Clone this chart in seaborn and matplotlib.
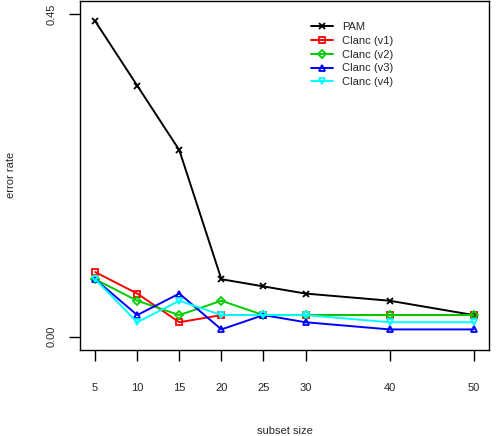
import matplotlib
matplotlib.use("Agg")
import matplotlib.pyplot as plt
import seaborn as sns
import pandas as pd

# Data
subset_size = [5, 10, 15, 20, 25, 30, 40, 50]
pam = [0.44, 0.35, 0.26, 0.08, 0.07, 0.06, 0.05, 0.03]
clanc_v1 = [0.09, 0.06, 0.02, 0.03, 0.03, 0.03, 0.03, 0.03]
clanc_v2 = [0.08, 0.05, 0.03, 0.05, 0.03, 0.03, 0.03, 0.03]
clanc_v3 = [0.08, 0.03, 0.06, 0.01, 0.03, 0.02, 0.01, 0.01]
clanc_v4 = [0.08, 0.02, 0.05, 0.03, 0.03, 0.03, 0.02, 0.02]

series_names = ["PAM", "Clanc (v1)", "Clanc (v2)", "Clanc (v3)", "Clanc (v4)"]
series_values = [pam, clanc_v1, clanc_v2, clanc_v3, clanc_v4]
colors = ["black", "#FF0000", "#00CD00", "#0000FF", "#00FFFF"]
markers = ["x", "s", "D", "^", "v"]

sns.set_style("white")
plt.rcParams["font.family"] = ["Liberation Sans", "DejaVu Sans"]

fig = plt.figure(figsize=(4.96, 4.36), dpi=100)
ax = fig.add_axes([80 / 496, 1 - 349.5 / 436, 409 / 496, 348.5 / 436])

for name, vals, col, mk in zip(series_names, series_values, colors, markers):
    df = pd.DataFrame({"subset size": subset_size, "error rate": vals})
    sns.lineplot(data=df, x="subset size", y="error rate", ax=ax, color=col,
                 marker=mk, markersize=5 if mk != "D" else 4,
                 markerfacecolor="none", markeredgecolor=col, markeredgewidth=1.3,
                 linewidth=1.4, label=name)

ax.set_xlim(3.2, 51.8)
ax.set_ylim(-0.018, 0.468)
ax.set_xticks(subset_size)
ax.set_xticklabels([str(s) for s in subset_size], fontsize=8)
ax.set_yticks([0.0, 0.45])
ax.set_yticklabels(["0.00", "0.45"], fontsize=8, rotation=90, va="center")
ax.tick_params(axis="both", direction="out", length=8, width=1, color="black",
               bottom=True, left=True)
ax.tick_params(axis="x", pad=16)
ax.tick_params(axis="y", pad=9)

ax.set_xlabel("subset size", fontsize=8, labelpad=24)
ax.set_ylabel("error rate", fontsize=8, labelpad=22)

for sp in ax.spines.values():
    sp.set_visible(True)
    sp.set_color("black")
    sp.set_linewidth(1)

ax.legend(loc="upper left", bbox_to_anchor=(0.54, 0.968), frameon=False,
          fontsize=8, handlelength=2.0, labelspacing=0.34, handletextpad=0.8)

fig.savefig("out.png", dpi=100)
